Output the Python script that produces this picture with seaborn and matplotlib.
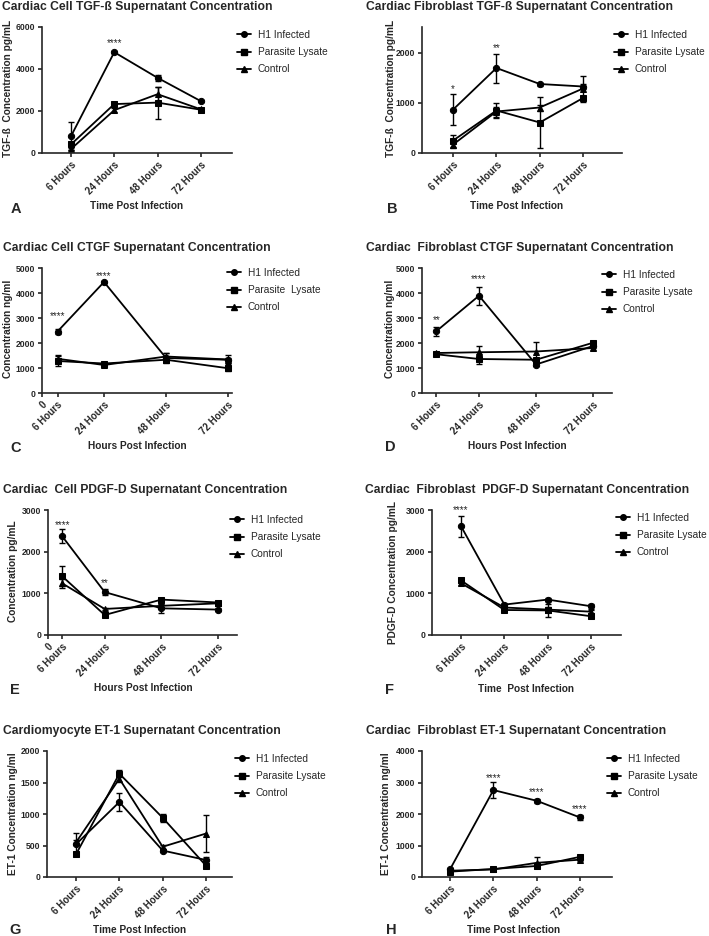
import pandas as pd
import matplotlib.pyplot as plt
from matplotlib.lines import Line2D
import seaborn as sns

# ---- data (rows: H1 Infected, Parasite Lysate, Control) ----
hours = [6, 24, 48, 72]
hour_labels = ["6 Hours", "24 Hours", "48 Hours", "72 Hours"]
groups = ["H1 Infected", "Parasite Lysate", "Control"]

tgf_cell_mean = [[800, 4800, 3580, 2470], [410, 2330, 2400, 2060], [190, 2040, 2800, 2080]]
tgf_cell_err = [[680, 60, 150, 60], [100, 120, 760, 80], [60, 80, 350, 60]]

tgf_fib_mean = [[870, 1700, 1380, 1330], [250, 850, 610, 1100], [170, 830, 910, 1290]]
tgf_fib_err = [[310, 290, 30, 50], [120, 150, 510, 30], [60, 100, 60, 260]]

ctgf_cell_mean = [[2460, 4440, 1400, 1330], [1280, 1180, 1330, 990], [1370, 1120, 1460, 1340]]
ctgf_cell_err = [[100, 40, 200, 60], [200, 60, 60, 90], [150, 60, 150, 170]]

ctgf_fib_mean = [[2470, 3890, 1140, 1880], [1550, 1360, 1330, 2010], [1600, 1630, 1660, 1800]]
ctgf_fib_err = [[180, 370, 50, 60], [40, 200, 80, 50], [40, 260, 400, 80]]

pdgf_cell_mean = [[2370, 1030, 640, 610], [1410, 480, 850, 780], [1240, 625, 700, 760]]
pdgf_cell_err = [[170, 80, 100, 30], [240, 30, 40, 40], [110, 30, 40, 40]]

pdgf_fib_mean = [[2610, 730, 850, 690], [1310, 600, 590, 450], [1240, 660, 610, 560]]
pdgf_fib_err = [[250, 40, 30, 60], [50, 30, 150, 40], [50, 40, 60, 40]]

et1_cardio_mean = [[520, 1190, 420, 270], [360, 1640, 940, 180], [550, 1560, 480, 690]]
et1_cardio_err = [[180, 140, 30, 50], [30, 60, 60, 30], [40, 50, 30, 290]]

et1_fib_mean = [[250, 2760, 2420, 1890], [170, 255, 350, 640], [200, 240, 450, 550]]
et1_fib_err = [[30, 250, 60, 90], [20, 30, 60, 50], [20, 30, 180, 40]]

# ---- layout ----
W, H = 709, 936
markers = ["o", "s", "^"]

def rect(l, t, r, b):
    return [l / W, 1 - b / H, (r - l) / W, (b - t) / H]

panels = [
    dict(mean=tgf_cell_mean, err=tgf_cell_err, numeric=False, box=(42, 27, 232, 153),
         xlim=(-0.67, 3.72), ylim=(0, 6000), yticks=[0, 2000, 4000, 6000],
         title="Cardiac Cell TGF-ß Supernatant Concentration", title_xy=(2, 7),
         ylabel="TGF-ß  Concentration pg/mL", ylabel_xy=(8, 88),
         xlabel="Time Post Infection", xlabel_xy=(137, 206),
         letter="A", letter_xy=(16, 209), legend_xy=(237, 30), lysate="Parasite Lysate",
         stars=[(1, 5230, "****")]),
    dict(mean=tgf_fib_mean, err=tgf_fib_err, numeric=False, box=(422, 27, 622, 153),
         xlim=(-0.72, 3.9), ylim=(0, 2520), yticks=[0, 1000, 2000],
         title="Cardiac Fibroblast TGF-ß Supernatant Concentration", title_xy=(366, 7),
         ylabel="TGF-ß  Concentration pg/mL", ylabel_xy=(391, 88),
         xlabel="Time Post Infection", xlabel_xy=(517, 206),
         letter="B", letter_xy=(392, 209), legend_xy=(614, 30), lysate="Parasite Lysate",
         stars=[(0, 1270, "*"), (1, 2090, "**")]),
    dict(mean=ctgf_cell_mean, err=ctgf_cell_err, numeric=True, box=(42, 268, 232, 393),
         xlim=(0, 73.5), ylim=(0, 5000), yticks=[0, 1000, 2000, 3000, 4000, 5000],
         title="Cardiac Cell CTGF Supernatant Concentration", title_xy=(3, 248),
         ylabel="Concentration ng/ml", ylabel_xy=(8, 329),
         xlabel="Hours Post Infection", xlabel_xy=(137, 446),
         letter="C", letter_xy=(16, 448), legend_xy=(227, 268), lysate="Parasite  Lysate",
         zero_tick=True, stars=[(0, 3085, "****"), (1, 4670, "****")]),
    dict(mean=ctgf_fib_mean, err=ctgf_fib_err, numeric=True, box=(422, 268, 612, 393),
         xlim=(0, 80), ylim=(0, 5000), yticks=[0, 1000, 2000, 3000, 4000, 5000],
         title="Cardiac  Fibroblast CTGF Supernatant Concentration", title_xy=(366, 248),
         ylabel="Concentration ng/ml", ylabel_xy=(390, 329),
         xlabel="Hours Post Infection", xlabel_xy=(517, 446),
         letter="D", letter_xy=(390, 447), legend_xy=(602, 270), lysate="Parasite Lysate",
         stars=[(0, 2920, "**"), (1, 4550, "****")]),
    dict(mean=pdgf_cell_mean, err=pdgf_cell_err, numeric=True, box=(48, 510, 237, 635),
         xlim=(0, 80), ylim=(0, 3000), yticks=[0, 1000, 2000, 3000],
         title="Cardiac  Cell PDGF-D Supernatant Concentration", title_xy=(3, 490),
         ylabel="Concentration pg/mL", ylabel_xy=(13, 571),
         xlabel="Hours Post Infection", xlabel_xy=(143, 688),
         letter="E", letter_xy=(15, 690), legend_xy=(230, 515), lysate="Parasite Lysate",
         zero_tick=True, stars=[(0, 2650, "****"), (1, 1240, "**")]),
    dict(mean=pdgf_fib_mean, err=pdgf_fib_err, numeric=False, box=(432, 510, 621, 635),
         xlim=(-0.67, 3.69), ylim=(0, 3000), yticks=[0, 1000, 2000, 3000],
         title="Cardiac  Fibroblast  PDGF-D Supernatant Concentration", title_xy=(365, 490),
         ylabel="PDGF-D Concentration pg/mL", ylabel_xy=(393, 573),
         xlabel="Time  Post Infection", xlabel_xy=(526, 689),
         letter="F", letter_xy=(390, 690), legend_xy=(616, 513), lysate="Parasite Lysate",
         stars=[(0, 3010, "****")]),
    dict(mean=et1_cardio_mean, err=et1_cardio_err, numeric=False, box=(47, 751, 232, 877),
         xlim=(-0.67, 3.6), ylim=(0, 2000), yticks=[0, 500, 1000, 1500, 2000],
         title="Cardiomyocyte ET-1 Supernatant Concentration", title_xy=(3, 731),
         ylabel="ET-1 Concentration ng/ml", ylabel_xy=(13, 814),
         xlabel="Time Post Infection", xlabel_xy=(140, 930),
         letter="G", letter_xy=(15, 930), legend_xy=(235, 754), lysate="Parasite Lysate",
         stars=[]),
    dict(mean=et1_fib_mean, err=et1_fib_err, numeric=False, box=(422, 751, 612, 877),
         xlim=(-0.65, 3.74), ylim=(0, 4000), yticks=[0, 1000, 2000, 3000, 4000],
         title="Cardiac  Fibroblast ET-1 Supernatant Concentration", title_xy=(366, 731),
         ylabel="ET-1 Concentration ng/ml", ylabel_xy=(386, 814),
         xlabel="Time Post Infection", xlabel_xy=(514, 930),
         letter="H", letter_xy=(391, 930), legend_xy=(607, 754), lysate="Parasite Lysate",
         stars=[(1, 3150, "****"), (2, 2700, "****"), (3, 2150, "****")]),
]

sns.set_style("ticks")
plt.rcParams["font.family"] = ["Liberation Sans", "DejaVu Sans"]
plt.rcParams["axes.linewidth"] = 1.2

fig = plt.figure(figsize=(W / 100, H / 100), dpi=100)

for p in panels:
    ax = fig.add_axes(rect(*p["box"]))
    xs = hours if p["numeric"] else list(range(len(hours)))

    rows = []
    for g, vals in zip(groups, p["mean"]):
        for x, v in zip(xs, vals):
            rows.append({"x": x, "value": v, "group": g})
    df = pd.DataFrame(rows)

    sns.lineplot(data=df, x="x", y="value", style="group", markers=markers, dashes=False,
                 color="black", markersize=4.5, markeredgecolor="black", linewidth=1.3,
                 legend=False, ax=ax)
    for vals, errs in zip(p["mean"], p["err"]):
        ax.errorbar(xs, vals, yerr=errs, fmt="none", ecolor="black", elinewidth=1.0,
                    capsize=2.2, capthick=1.0)

    for i, y, s in p["stars"]:
        ax.text(xs[i], y, s, ha="center", va="center", fontsize=7)

    ax.set_xlim(p["xlim"])
    ax.set_ylim(p["ylim"])
    ax.set_yticks(p["yticks"])
    ax.set_yticklabels([str(t) for t in p["yticks"]], fontsize=6.2, fontweight="bold")
    if p.get("zero_tick"):
        ax.set_xticks([0] + xs)
        ax.set_xticklabels(["0"] + hour_labels)
    else:
        ax.set_xticks(xs)
        ax.set_xticklabels(hour_labels)
    for lab in ax.get_xticklabels():
        lab.set_rotation(45)
        lab.set_ha("right")
        lab.set_va("top")
        lab.set_rotation_mode("anchor")
        lab.set_fontsize(7)
        lab.set_fontweight("bold")
    ax.tick_params(length=3, width=1.2, pad=2)
    ax.set_xlabel("")
    ax.set_ylabel("")
    sns.despine(ax=ax)

    fig.text(p["title_xy"][0] / W, 1 - p["title_xy"][1] / H, p["title"],
             fontsize=8.7, fontweight="bold", ha="left", va="center")
    fig.text(p["ylabel_xy"][0] / W, 1 - p["ylabel_xy"][1] / H, p["ylabel"],
             fontsize=7.3, fontweight="bold", rotation=90, ha="center", va="center")
    fig.text(p["xlabel_xy"][0] / W, 1 - p["xlabel_xy"][1] / H, p["xlabel"],
             fontsize=7.3, fontweight="bold", ha="center", va="center")
    fig.text(p["letter_xy"][0] / W, 1 - p["letter_xy"][1] / H, p["letter"],
             fontsize=10.5, fontweight="bold", ha="center", va="center")

    handles = [Line2D([0], [0], color="black", marker=m, markersize=4, lw=1.3) for m in markers]
    labels = [groups[0], p["lysate"], groups[2]]
    fig.legend(handles, labels, loc="upper left",
               bbox_to_anchor=(p["legend_xy"][0] / W, 1 - p["legend_xy"][1] / H),
               frameon=False, fontsize=7.3, handlelength=1.35, handletextpad=0.7,
               labelspacing=0.7, borderpad=0, borderaxespad=0)

fig.savefig("out.png", dpi=100)
